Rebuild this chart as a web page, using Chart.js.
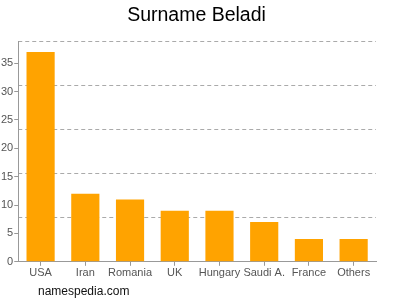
<!DOCTYPE html>
<html>
<head>
<meta charset="utf-8">
<script src="https://cdn.jsdelivr.net/npm/chart.js@4"></script>
<style>
  html, body { margin: 0; padding: 0; background: #fff; }
  #wrap { position: relative; width: 400px; height: 300px; }
  #credit {
    position: absolute; left: 38px; top: 284px;
    font: 12px "Liberation Sans", Arial, sans-serif; color: #111;
  }
</style>
</head>
<body>
<div id="wrap">
  <canvas id="chart" width="400" height="300"></canvas>
  <div id="credit">namespedia.com</div>
</div>
<script>
const countries = ["USA", "Iran", "Romania", "UK", "Hungary", "Saudi A.", "France", "Others"];
const counts = [37, 12, 11, 9, 9, 7, 4, 4];
const yTicks = [0, 5, 10, 15, 20, 25, 30, 35];
const yMax = 38.85;

document.addEventListener("DOMContentLoaded", () => {
  const font = { family: "'Liberation Sans', Arial, sans-serif", size: 11 };

  new Chart(document.getElementById("chart"), {
    type: "bar",
    data: {
      labels: countries,
      datasets: [{
        data: counts,
        backgroundColor: "#ffa300",
        categoryPercentage: 0.63,
        barPercentage: 1,
      }],
    },
    options: {
      responsive: false,
      animation: false,
      layout: { padding: { left: 0, right: 7, top: 0, bottom: 19 } },
      plugins: {
        legend: { display: false },
        tooltip: { enabled: false },
        title: {
          display: true,
          text: "Surname Beladi",
          color: "#000",
          font: { family: font.family, size: 19.5, weight: "normal" },
          padding: { top: 4, bottom: 14 },
        },
      },
      scales: {
        x: {
          grid: { offset: false, drawOnChartArea: false, drawTicks: true, tickLength: 4, color: "#999" },
          border: { color: "#999" },
          ticks: { color: "#555", font, padding: 1, maxRotation: 0, autoSkip: false },
        },
        y: {
          min: 0,
          max: yMax,
          afterBuildTicks: axis => {
            axis.ticks = yTicks.map(v => ({ value: v }));
          },
          grid: { drawOnChartArea: false, drawTicks: true, tickLength: 4, color: "#999" },
          border: { color: "#999" },
          ticks: { color: "#555", font, padding: 1 },
        },
        y2: {
          position: "right",
          display: true,
          min: 0,
          max: yMax,
          afterBuildTicks: axis => {
            axis.ticks = [1, 2, 3, 4, 5].map(i => ({ value: i * yMax / 5 }));
          },
          afterFit: axis => { axis.width = 17; },
          ticks: { display: false },
          grid: { color: "#aaa", drawTicks: false, lineWidth: 1 },
          border: { display: false, dash: [4, 3] },
        },
      },
    },
  });
});
</script>
</body>
</html>
